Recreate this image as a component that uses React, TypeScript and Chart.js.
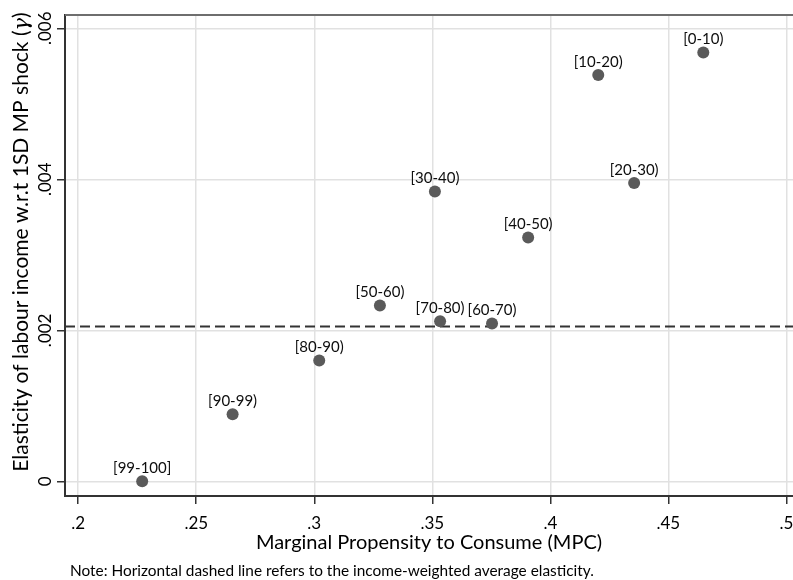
import React, { useEffect, useRef } from "react";
import { Chart, registerables } from "chart.js";

Chart.register(...registerables);

// Income groups (percentiles) with their MPC and labour-income elasticity
const groups = ["[0-10)", "[10-20)", "[20-30)", "[30-40)", "[40-50)", "[50-60)", "[60-70)", "[70-80)", "[80-90)", "[90-99)", "[99-100]"];
const mpc = [0.4648, 0.4203, 0.4355, 0.3511, 0.3906, 0.3278, 0.3753, 0.3533, 0.3021, 0.2654, 0.2271];
const elasticity = [0.00568, 0.00538, 0.00395, 0.00384, 0.00323, 0.00233, 0.00209, 0.00212, 0.0016, 0.00089, 0.0];
const averageElasticity = 0.00205;

const xTicks = [0.2, 0.25, 0.3, 0.35, 0.4, 0.45, 0.5];
const yTicks = [0, 0.002, 0.004, 0.006];
const xLimits = [0.1944, 0.5028];
const yLimits = [-0.000194, 0.006176];

const xTitle = "Marginal Propensity to Consume (MPC)";
const yTitleMain = "Elasticity of labour income w.r.t 1SD MP shock (";
const yTitleSymbol = "γ";
const yTitleClose = ")";
const note = "Note: Horizontal dashed line refers to the income-weighted average elasticity.";

const FONT = "Lato, 'Open Sans', sans-serif";

const tickText = (v: number) => (v === 0 ? "0" : String(v).replace(/^0\./, "."));

const annotations = {
  id: "annotations",
  afterDraw(chart: any) {
    const { ctx, chartArea } = chart;
    ctx.save();

    // upper frame line
    ctx.strokeStyle = "#6e6e6e";
    ctx.lineWidth = 2;
    ctx.beginPath();
    ctx.moveTo(chartArea.left, chartArea.top);
    ctx.lineTo(chartArea.right, chartArea.top);
    ctx.stroke();

    // group labels above each marker
    const meta = chart.getDatasetMeta(0);
    ctx.font = `15px ${FONT}`;
    ctx.fillStyle = "#0d0d0d";
    ctx.textAlign = "center";
    ctx.textBaseline = "alphabetic";
    meta.data.forEach((pt: any, i: number) => {
      ctx.fillText(groups[i], pt.x, pt.y - 8.5);
    });

    // footnote
    ctx.textAlign = "left";
    ctx.fillStyle = "#000";
    ctx.font = `15.4px ${FONT}`;
    ctx.fillText(note, 70, 576);

    // vertical axis title with italic gamma
    const mainFont = `21px ${FONT}`;
    const symFont = `italic 21px 'DejaVu Serif', serif`;
    ctx.font = mainFont;
    const w1 = ctx.measureText(yTitleMain).width;
    const w3 = ctx.measureText(yTitleClose).width;
    ctx.font = symFont;
    const w2 = ctx.measureText(yTitleSymbol).width;
    const total = w1 + w2 + w3;
    ctx.translate(28, 242);
    ctx.rotate(-Math.PI / 2);
    let x = -total / 2;
    ctx.font = mainFont;
    ctx.fillText(yTitleMain, x, 0);
    x += w1;
    ctx.font = symFont;
    ctx.fillText(yTitleSymbol, x, 0);
    x += w2;
    ctx.font = mainFont;
    ctx.fillText(yTitleClose, x, 0);

    ctx.restore();
  },
};

export default function App() {
  const canvasRef = useRef<HTMLCanvasElement | null>(null);

  useEffect(() => {
    document.body.style.margin = "0";
    const canvas = canvasRef.current;
    if (!canvas) return;

    const gridStyle = {
      color: "#e1e1e1",
      lineWidth: 1.5,
      tickColor: "#333",
      tickWidth: 1.5,
      tickLength: 8,
    };
    const borderStyle = { display: true, color: "#333", width: 2 };

    const chart = new Chart(canvas, {
      type: "scatter",
      data: {
        datasets: [
          {
            label: "groups",
            data: mpc.map((m, i) => ({ x: m, y: elasticity[i] })),
            pointRadius: 6,
            pointHoverRadius: 6,
            backgroundColor: "#5a5a5a",
            borderWidth: 0,
          },
          {
            type: "line",
            label: "average",
            data: [
              { x: xLimits[0], y: averageElasticity },
              { x: xLimits[1], y: averageElasticity },
            ],
            borderColor: "#333",
            borderWidth: 2,
            borderDash: [10, 5],
            pointRadius: 0,
            fill: false,
          } as any,
        ],
      },
      options: {
        responsive: false,
        animation: false,
        layout: { autoPadding: false, padding: { top: 15, left: 0, right: 0, bottom: 0 } },
        plugins: {
          legend: { display: false },
          tooltip: { enabled: false },
        },
        scales: {
          x: {
            type: "linear",
            min: xLimits[0],
            max: xLimits[1],
            afterBuildTicks: (s: any) => {
              s.ticks = xTicks.map((value) => ({ value }));
            },
            afterFit: (s: any) => {
              s.height = 84;
              s.paddingLeft = 0;
              s.paddingRight = 0;
            },
            grid: gridStyle,
            border: borderStyle,
            ticks: {
              color: "#000",
              font: { family: FONT, size: 17 },
              padding: 9,
              minRotation: 0,
              maxRotation: 0,
              autoSkip: false,
              callback: (v: any) => tickText(Number(v)),
            },
            title: {
              display: true,
              text: xTitle,
              color: "#000",
              font: { family: FONT, size: 20 },
              padding: { top: 0, bottom: 25 },
            },
          },
          y: {
            type: "linear",
            min: yLimits[0],
            max: yLimits[1],
            afterBuildTicks: (s: any) => {
              s.ticks = yTicks.map((value) => ({ value }));
            },
            afterFit: (s: any) => {
              s.width = 65;
              s.paddingTop = 0;
              s.paddingBottom = 0;
            },
            grid: gridStyle,
            border: borderStyle,
            ticks: {
              color: "#000",
              font: { family: FONT, size: 17 },
              padding: -5,
              minRotation: 90,
              maxRotation: 90,
              crossAlign: "center",
              autoSkip: false,
              callback: (v: any) => tickText(Number(v)),
            },
          },
        },
      } as any,
      plugins: [annotations],
    });

    return () => chart.destroy();
  }, []);

  return (
    <div style={{ width: 793, height: 580 }}>
      <canvas ref={canvasRef} width={793} height={580} style={{ display: "block" }} />
    </div>
  );
}
